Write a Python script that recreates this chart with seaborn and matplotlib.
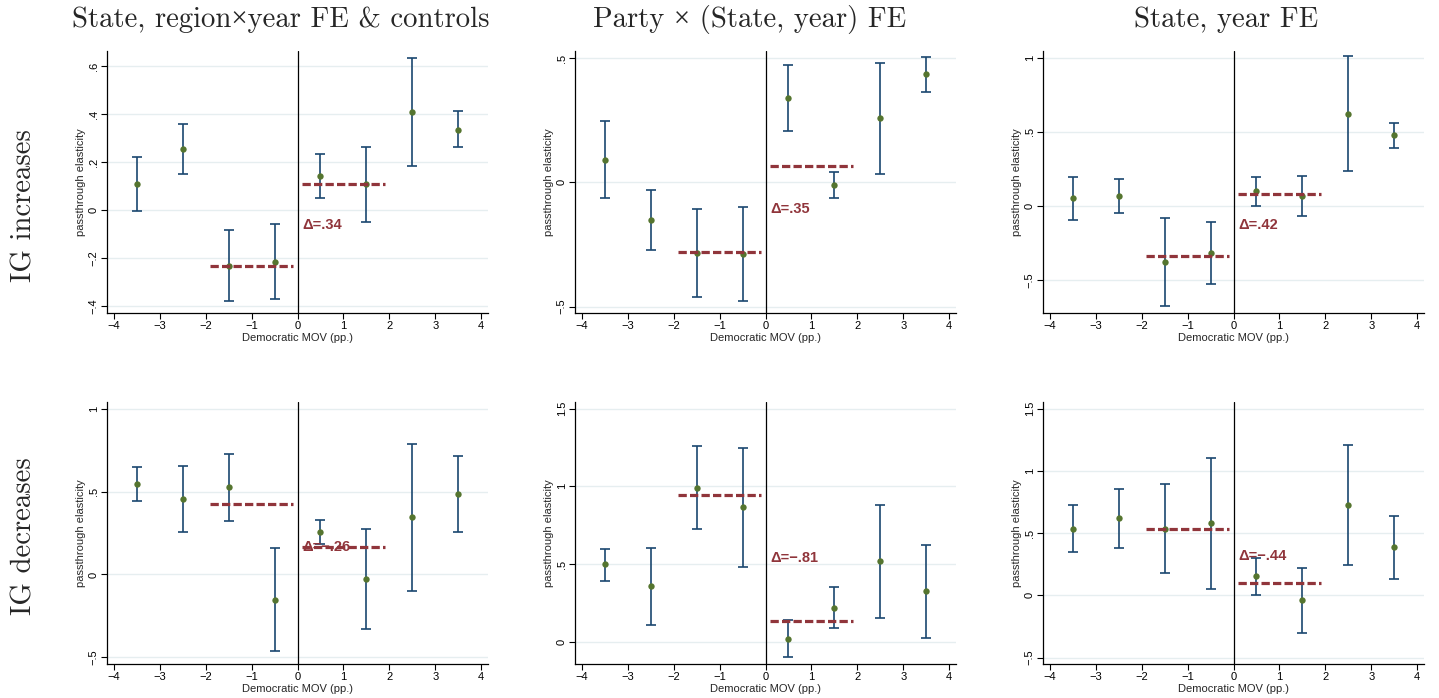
import numpy as np
import pandas as pd
import matplotlib
matplotlib.use("Agg")
import matplotlib.pyplot as plt
import seaborn as sns

# Bin midpoints of the Democratic margin of victory (pp.)
mov_bins = [-3.5, -2.5, -1.5, -0.5, 0.5, 1.5, 2.5, 3.5]

# IG increases: point estimates and 95% CI bounds
inc_region_est = [0.108, 0.254, -0.232, -0.214, 0.142, 0.108, 0.407, 0.335]
inc_region_lo = [-0.004, 0.149, -0.379, -0.368, 0.052, -0.048, 0.183, 0.261]
inc_region_hi = [0.219, 0.359, -0.084, -0.058, 0.233, 0.262, 0.633, 0.411]

inc_party_est = [0.091, -0.150, -0.285, -0.289, 0.337, -0.011, 0.258, 0.435]
inc_party_lo = [-0.062, -0.271, -0.463, -0.477, 0.208, -0.064, 0.034, 0.364]
inc_party_hi = [0.246, -0.030, -0.106, -0.099, 0.470, 0.042, 0.479, 0.505]

inc_state_est = [0.052, 0.068, -0.381, -0.315, 0.097, 0.068, 0.622, 0.475]
inc_state_lo = [-0.095, -0.045, -0.678, -0.527, -0.002, -0.070, 0.234, 0.392]
inc_state_hi = [0.196, 0.180, -0.083, -0.106, 0.194, 0.203, 1.009, 0.561]

# IG decreases
dec_region_est = [0.546, 0.458, 0.526, -0.153, 0.257, -0.028, 0.345, 0.488]
dec_region_lo = [0.444, 0.257, 0.323, -0.462, 0.181, -0.331, -0.098, 0.257]
dec_region_hi = [0.647, 0.655, 0.729, 0.157, 0.331, 0.277, 0.789, 0.717]

dec_party_est = [0.497, 0.356, 0.992, 0.866, 0.019, 0.219, 0.516, 0.324]
dec_party_lo = [0.392, 0.105, 0.724, 0.482, -0.101, 0.086, 0.154, 0.021]
dec_party_hi = [0.598, 0.606, 1.260, 1.247, 0.139, 0.351, 0.879, 0.624]

dec_state_est = [0.537, 0.618, 0.537, 0.578, 0.152, -0.037, 0.722, 0.385]
dec_state_lo = [0.350, 0.377, 0.179, 0.051, 0.000, -0.299, 0.241, 0.131]
dec_state_hi = [0.725, 0.856, 0.896, 1.102, 0.302, 0.222, 1.209, 0.639]

# Pooled averages just below / just above the cutoff (|MOV| < 2)
inc_below = [-0.232, -0.282, -0.340]
inc_above = [0.109, 0.064, 0.079]
dec_below = [0.425, 0.945, 0.537]
dec_above = [0.168, 0.135, 0.096]

col_titles = ["State, region\u00d7year FE & controls",
              "Party \u00d7 (State, year) FE",
              "State, year FE"]
row_titles = ["IG increases", "IG decreases"]

x_ticks = [-4, -3, -2, -1, 0, 1, 2, 3, 4]
y_ticks = [
    [[-0.4, -0.2, 0, 0.2, 0.4, 0.6], [-0.5, 0, 0.5], [-0.5, 0, 0.5, 1]],
    [[-0.5, 0, 0.5, 1], [0, 0.5, 1, 1.5], [-0.5, 0, 0.5, 1, 1.5]],
]
y_limits = [
    [(-0.428, 0.662), (-0.526, 0.528), (-0.723, 1.045)],
    [(-0.540, 1.040), (-0.144, 1.543), (-0.551, 1.553)],
]

NAVY = "#1a476f"
GREEN = "#55752f"
CRANBERRY = "#90353b"
GRID = "#e6eef0"
SERIF = ["cmr10", "Liberation Serif"]

sns.set_theme(style="white")
plt.rcParams["font.family"] = ["Liberation Sans", "DejaVu Sans"]
plt.rcParams["axes.unicode_minus"] = True


def stata_num(v):
    s = f"{v:g}"
    neg = s.startswith("-")
    s = s.lstrip("-")
    if s.startswith("0.") and len(s) > 1:
        s = s[1:]
    return ("\u2212" if neg else "") + s


def delta_text(d):
    s = f"{d:.2f}"
    neg = s.startswith("-")
    s = s.lstrip("-")
    if s.startswith("0."):
        s = s[1:]
    return "\u0394=" + ("\u2212" if neg else "") + s


panels = [
    [(inc_region_est, inc_region_lo, inc_region_hi),
     (inc_party_est, inc_party_lo, inc_party_hi),
     (inc_state_est, inc_state_lo, inc_state_hi)],
    [(dec_region_est, dec_region_lo, dec_region_hi),
     (dec_party_est, dec_party_lo, dec_party_hi),
     (dec_state_est, dec_state_lo, dec_state_hi)],
]
below = [inc_below, dec_below]
above = [inc_above, dec_above]

fig = plt.figure(figsize=(14.39, 6.98), dpi=100)
W, H = 1439.0, 698.0
col_left = [107, 575, 1043]
ax_w = 381
row_top = [51, 402]
ax_h = 262

for r in range(2):
    for c in range(3):
        est, lo, hi = panels[r][c]
        ax = fig.add_axes([col_left[c] / W, 1 - (row_top[r] + ax_h) / H,
                           ax_w / W, ax_h / H])
        df = pd.DataFrame({"mov": mov_bins, "est": est, "lo": lo, "hi": hi})

        ylo, yhi = y_limits[r][c]
        for t in y_ticks[r][c]:
            ax.axhline(t, color=GRID, lw=1.0, zorder=0)
        ax.axvline(0, color="black", lw=0.9, zorder=1)

        ax.errorbar(df["mov"], df["est"],
                    yerr=[df["est"] - df["lo"], df["hi"] - df["est"]],
                    fmt="none", ecolor=NAVY, elinewidth=1.2, capsize=3.6,
                    capthick=1.2, zorder=2)
        sns.scatterplot(data=df, x="mov", y="est", ax=ax, color=GREEN,
                        s=21, edgecolor=GREEN, linewidth=0, zorder=3,
                        legend=False)

        b, a = below[r][c], above[r][c]
        ax.hlines(b, -1.9, -0.1, colors=CRANBERRY, lw=2.3,
                  linestyles=(0, (2.6, 1.0)), zorder=4)
        ax.hlines(a, 0.1, 1.9, colors=CRANBERRY, lw=2.3,
                  linestyles=(0, (2.6, 1.0)), zorder=4)
        label_y = a if (r == 1 and c == 0) else (a + b) / 2
        ax.text(0.1, label_y, delta_text(a - b), color=CRANBERRY,
                fontsize=10.5, fontweight="bold", ha="left", va="center",
                zorder=5)

        ax.set_xlim(-4.15, 4.15)
        ax.set_ylim(ylo, yhi)
        ax.set_xticks(x_ticks)
        ax.set_xticklabels([stata_num(v) for v in x_ticks])
        ax.set_yticks(y_ticks[r][c])
        ax.set_yticklabels([stata_num(v) for v in y_ticks[r][c]],
                           rotation=90, va="center")
        ax.tick_params(axis="both", which="major", length=4, width=0.8,
                       direction="out", labelsize=8, pad=2,
                       colors="black", bottom=True, left=True)
        ax.set_xlabel("Democratic MOV (pp.)", fontsize=8, labelpad=1)
        ax.set_ylabel("passthrough elasticity", fontsize=8, labelpad=2)
        for side in ["top", "right"]:
            ax.spines[side].set_visible(False)
        for side in ["left", "bottom"]:
            ax.spines[side].set_color("black")
            ax.spines[side].set_linewidth(0.9)
        ax.set_facecolor("white")

title_x = [281, 750, 1226]
for c in range(3):
    fig.text(title_x[c] / W, 1 - 27 / H, col_titles[c], fontsize=20.7,
             family=SERIF, ha="center", va="baseline")
row_y = [205.5, 536]
for r in range(2):
    fig.text(32 / W, 1 - row_y[r] / H, row_titles[r], fontsize=20.7,
             family=SERIF, rotation=90, rotation_mode="anchor",
             ha="center", va="baseline")

fig.savefig("out.png", dpi=100, facecolor="white")
